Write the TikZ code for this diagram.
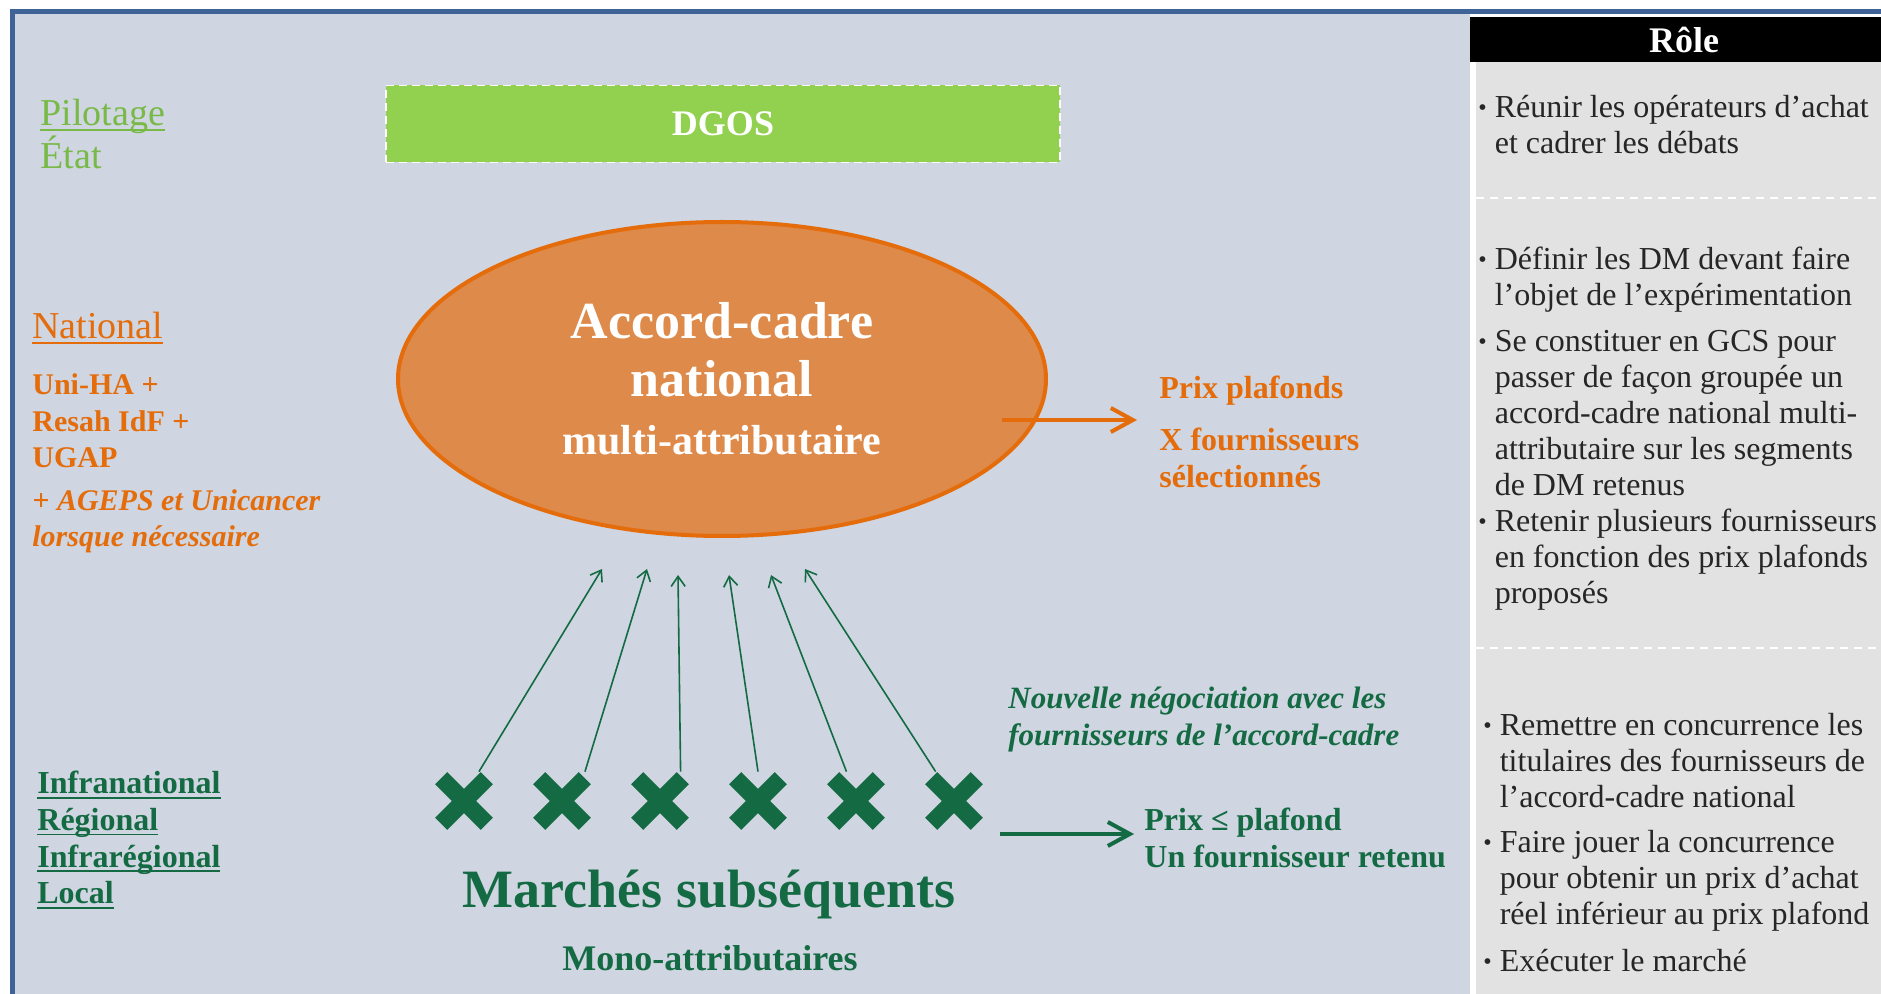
\documentclass[tikz,border=0pt]{standalone}
\usepackage{fontspec}
\setmainfont{Liberation Serif}
\usetikzlibrary{shapes.geometric,arrows.meta}

\definecolor{bgblue}{HTML}{CFD5E1}
\definecolor{frameblue}{HTML}{3F6396}
\definecolor{dgosgreen}{HTML}{92D050}
\definecolor{pilgreen}{HTML}{79B948}
\definecolor{natorange}{HTML}{E46C0A}
\definecolor{ellfill}{HTML}{DE8A4A}
\definecolor{mgreen}{HTML}{146B43}
\definecolor{rolegray}{HTML}{E2E2E2}
\definecolor{roletext}{HTML}{262626}

\newcommand{\thickul}[1]{\leavevmode\setbox0\hbox{#1}\rlap{\rule[-2.5pt]{\wd0}{0.9pt}}\box0}
\newcommand{\rolebullet}{\raisebox{1pt}{\fontsize{12}{12}\selectfont\textbullet}}

\begin{document}
\begin{tikzpicture}[x=0.5pt, y=-0.5pt,
    lvl/.style={anchor=west, align=left, inner sep=0pt},
    item/.style={anchor=north west, inner sep=0pt, text=roletext, font=\fontsize{16}{18}\selectfont},
    xcross/.style={minimum size=29pt, inner sep=0pt, fill=bgblue,
        path picture={\draw[line width=8.5pt, mgreen]
            ([shift={(-11.4pt,11.4pt)}]path picture bounding box.center) -- ([shift={(11.4pt,-11.4pt)}]path picture bounding box.center)
            ([shift={(11.4pt,11.4pt)}]path picture bounding box.center) -- ([shift={(-11.4pt,-11.4pt)}]path picture bounding box.center);}},
    bigarrow/.style={-{Straight Barb[length=11pt, width=12pt]}, line width=2pt},
    thinarrow/.style={-{Straight Barb[length=5pt, width=7pt]}, line width=0.8pt, mgreen},
]
    \useasboundingbox (0,0) rectangle (1881,994);
    \fill[white] (0,0) rectangle (1881,994);

    % Background panels
    \fill[bgblue] (12,12) rectangle (1470,994);
    \fill[rolegray] (1476,62) rectangle (1881,994);
    \node[fill=black, text=white, font=\bfseries\fontsize{18}{20}\selectfont, minimum width=214pt, minimum height=22.5pt, inner sep=0pt] (role) at (1684,39.5) {Rôle};
    \draw[frameblue, line width=2.5pt] (12,994) -- (12,12) -- (1881,12);
    \draw[white, line width=1pt, dash pattern=on 4pt off 3pt] (1476,198) -- (1881,198);
    \draw[white, line width=1pt, dash pattern=on 4pt off 3pt] (1476,648) -- (1881,648);

    % Pilotage
    \node[lvl, text=pilgreen, font=\fontsize{19}{20}\selectfont] (pil) at (40,134) {\thickul{Pilotage}\\État};
    \node[fill=dgosgreen, draw=white, dash pattern=on 4pt off 2.5pt, line width=0.8pt, text=white, font=\bfseries\fontsize{18}{20}\selectfont, minimum width=337pt, minimum height=38.5pt] (dgos) at (723,124) {DGOS};

    % National
    \node[lvl, text=natorange, font=\fontsize{19}{20}\selectfont] (nat) at (32,328) {\thickul{National}};
    \node[lvl, text=natorange, font=\bfseries\fontsize{15}{18.3}\selectfont] (uni) at (32,421) {Uni-HA +\\Resah IdF +\\UGAP};
    \node[lvl, text=natorange, font=\bfseries\itshape\fontsize{15}{18}\selectfont] (ageps) at (32,521) {+ AGEPS et Unicancer\\lorsque nécessaire};
    \node[ellipse, fill=ellfill, draw=natorange, line width=2pt, minimum width=324pt, minimum height=157pt, text=white, align=center, font=\bfseries\fontsize{26}{29}\selectfont] (acn) at (722,379) {Accord-cadre\\national\\{\fontsize{21}{28}\selectfont multi-attributaire}};
    \node[lvl, anchor=north west, text=natorange, font=\bfseries\fontsize{16}{18.5}\selectfont] (ppl) at (1159,376) {Prix plafonds\\[7.5pt]X fournisseurs\\sélectionnés};
    \coordinate (oa) at (1002,420);
    \draw[bigarrow, natorange, shorten >=11pt] (oa) -- (oa -| ppl.west);

    % Subsequent markets
    \foreach \i/\x in {1/464,2/562,3/660,4/758,5/856,6/954}
        \node[xcross] (m\i) at (\x,801) {};
    \foreach \i/\x/\y in {1/602/569,2/647/569,3/678/575,4/729/575,5/771/575,6/805/569}
        \coordinate (t\i) at (\x,\y);
    \foreach \i/\a in {1/63,2/52,3/55,4/90,5/108,6/122}
        \draw[thinarrow] (m\i.\a) -- (t\i);
    \node[text=mgreen, font=\bfseries\fontsize{27}{30}\selectfont] (ms) at (709,894) {Marchés subséquents};
    \node[text=mgreen, font=\bfseries\fontsize{18}{20}\selectfont] (mono) at (710,958) {Mono-attributaires};
    \node[lvl, text=mgreen, font=\bfseries\itshape\fontsize{15.5}{18.5}\selectfont] (neg) at (1008,720) {Nouvelle négociation avec les\\fournisseurs de l’accord-cadre};
    \node[lvl, text=mgreen, font=\bfseries\fontsize{16}{18.5}\selectfont] (prx) at (1144,838) {Prix ≤ plafond\\Un fournisseur retenu};
    \coordinate (ga) at (1000,834);
    \draw[bigarrow, mgreen, shorten >=5pt] (ga) -- (ga -| prx.west);
    \node[lvl, text=mgreen, font=\bfseries\fontsize{16}{18.3}\selectfont] (infra) at (37,840) {\thickul{Infranational}\\\thickul{Régional}\\\thickul{Infrarégional}\\\thickul{Local}};

    % Role column
    \node[item] (r1) at (1478,92) {\begin{tabular}{@{}l@{\hspace{4pt}}l@{}}
        \rolebullet & Réunir les opérateurs d’achat\\
        & et cadrer les débats
    \end{tabular}};
    \node[item] (r2) at (1478,244) {\begin{tabular}{@{}l@{\hspace{4pt}}l@{}}
        \rolebullet & Définir les DM devant faire\\
        & l’objet de l’expérimentation\\[5pt]
        \rolebullet & Se constituer en GCS pour\\
        & passer de façon groupée un\\
        & accord-cadre national multi-\\
        & attributaire sur les segments\\
        & de DM retenus\\
        \rolebullet & Retenir plusieurs fournisseurs\\
        & en fonction des prix plafonds\\
        & proposés
    \end{tabular}};
    \node[item] (r3) at (1483,710) {\begin{tabular}{@{}l@{\hspace{4pt}}l@{}}
        \rolebullet & Remettre en concurrence les\\
        & titulaires des fournisseurs de\\
        & l’accord-cadre national\\[4.5pt]
        \rolebullet & Faire jouer la concurrence\\
        & pour obtenir un prix d’achat\\
        & réel inférieur au prix plafond\\[5.5pt]
        \rolebullet & Exécuter le marché
    \end{tabular}};
\end{tikzpicture}
\end{document}
